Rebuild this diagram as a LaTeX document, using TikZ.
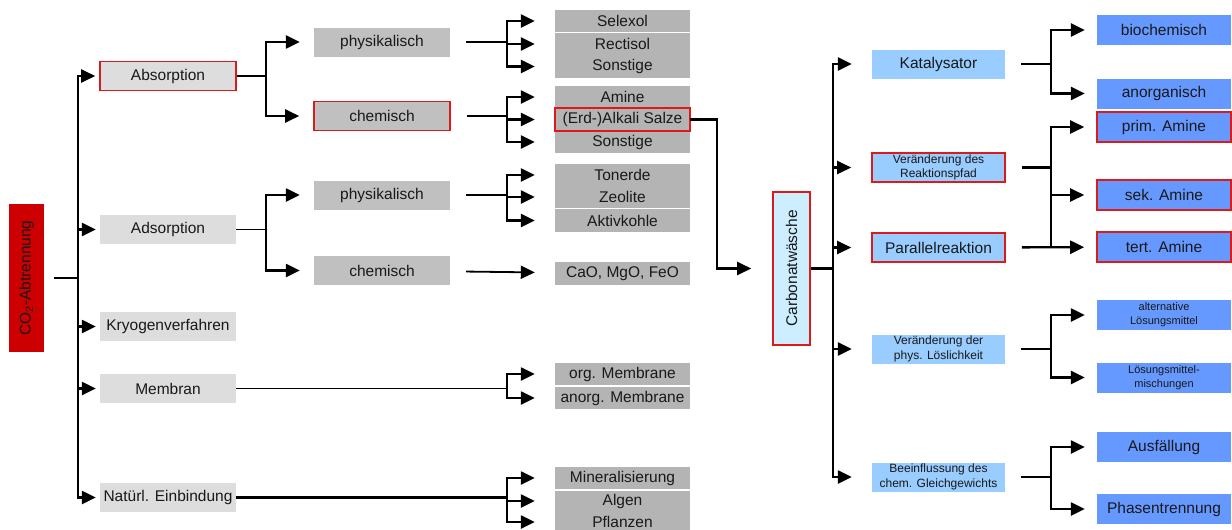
\documentclass[tikz,border=0pt]{standalone}
\usepackage{fontspec}
\setmainfont{Liberation Sans}
\usetikzlibrary{arrows.meta}
\definecolor{rootred}{HTML}{CC0000}
\definecolor{frame}{HTML}{DD1A1A}
\definecolor{greyone}{HTML}{DDDDDD}
\definecolor{greytwo}{HTML}{C0C0C0}
\definecolor{greythree}{HTML}{B4B4B4}
\definecolor{blueone}{HTML}{99CCFF}
\definecolor{bluetwo}{HTML}{6699FF}
\definecolor{bluepale}{HTML}{CCEEFF}
\begin{document}
\begin{tikzpicture}[x=1pt, y=-1pt,
    every node/.style={inner sep=0pt, text=black!90, font=\fontsize{15.5}{18}\selectfont},
    line/.style={line width=2.4pt},
    arr/.style={line width=2.4pt, -{Triangle[length=14pt,width=13pt]}},
    lvlone/.style={fill=greyone, minimum width=136, minimum height=29},
    lvltwo/.style={fill=greytwo, minimum width=136, minimum height=29},
    lvlthree/.style={fill=greythree, minimum width=135, minimum height=22},
    rone/.style={fill=blueone, minimum width=133, minimum height=29, align=center},
    rtwo/.style={fill=bluetwo, minimum width=134, minimum height=30, align=center},
    redframe/.style={draw=frame, line width=1.6pt},
    smalltext/.style={font=\fontsize{12}{14.5}\selectfont},
    tinytext/.style={font=\fontsize{11}{14}\selectfont}]
\useasboundingbox (0,0) rectangle (1232,530);

\node[fill=rootred, rotate=90, minimum width=148, minimum height=35] (root) at (26.5,278) {CO\textsubscript{2}-Abtrennung};

\node[lvlone, redframe] (absorp) at (168,76) {Absorption};
\node[lvlone] (adsorp) at (168,229.5) {Adsorption};
\node[lvlone] (kryo) at (168,326.5) {Kryogenverfahren};
\node[lvlone] (membran) at (168,388.5) {Membran};
\node[lvlone] (natur) at (168,497.5) {Natürl. Einbindung};

\node[lvltwo] (physA) at (382,42) {physikalisch};
\node[lvltwo, redframe] (chemA) at (382,116) {chemisch};
\node[lvltwo] (physB) at (382,195) {physikalisch};
\node[lvltwo] (chemB) at (382,270.5) {chemisch};

\node[lvlthree] (selexol) at (622.5,21) {Selexol};
\node[lvlthree] (rectisol) at (622.5,44) {Rectisol};
\node[lvlthree, minimum height=23] (sonstA) at (622.5,66.5) {Sonstige};
\node[lvlthree] (amine) at (622.5,97) {Amine};
\node[lvlthree, minimum height=23] (erd) at (622.5,119.5) {(Erd-)Alkali Salze};
\node[lvlthree] (sonstB) at (622.5,142) {Sonstige};
\draw[frame, line width=1.6pt] (erd.south west) rectangle (erd.north east);
\node[lvlthree] (tonerde) at (622.5,175) {Tonerde};
\node[lvlthree] (zeolite) at (622.5,197) {Zeolite};
\node[lvlthree, minimum height=23] (aktiv) at (622.5,220.5) {Aktivkohle};
\node[lvlthree, minimum height=23] (cao) at (622.5,273.5) {CaO, MgO, FeO};
\node[lvlthree] (orgm) at (622.5,374) {org. Membrane};
\node[lvlthree] (anorgm) at (622.5,398) {anorg. Membrane};
\node[lvlthree] (mineral) at (622.5,478) {Mineralisierung};
\node[lvlthree, minimum height=20] (algen) at (622.5,501) {Algen};
\node[lvlthree] (pflanzen) at (622.5,522) {Pflanzen};

\node[fill=bluepale, draw=frame, line width=1.6pt, rotate=90, minimum width=153, minimum height=37] (carbon) at (791.5,268.5) {Carbonatwäsche};

\node[rone] (katal) at (938.5,64) {Katalysator};
\node[rone, redframe, smalltext] (reakt) at (938.5,167.5) {Veränderung des\\Reaktionspfad};
\node[rone, redframe] (parallel) at (938.5,247.5) {Parallelreaktion};
\node[rone, smalltext] (physL) at (938.5,349) {Veränderung der\\phys. Löslichkeit};
\node[rone, smalltext] (gleich) at (938.5,477) {Beeinflussung des\\chem. Gleichgewichts};

\node[rtwo] (bioch) at (1164,30) {biochemisch};
\node[rtwo] (anorg) at (1164,93.5) {anorganisch};
\node[rtwo, redframe] (prim) at (1164,127) {prim. Amine};
\node[rtwo, redframe] (sek) at (1164,195) {sek. Amine};
\node[rtwo, redframe] (tert) at (1164,247) {tert. Amine};
\node[rtwo, tinytext] (altL) at (1164,315) {alternative\\Lösungsmittel};
\node[rtwo, tinytext] (misch) at (1164,377.5) {Lösungsmittel-\\mischungen};
\node[rtwo] (ausf) at (1164,447) {Ausfällung};
\node[rtwo] (phasen) at (1164,509) {Phasentrennung};

\coordinate (tA) at (78,278);
\coordinate (bAbs) at (266,76);
\coordinate (bAds) at (266,229.5);
\coordinate (bPA) at (507,42);
\coordinate (bCA) at (507,116);
\coordinate (bPB) at (507,195);
\coordinate (bMem) at (507,388.5);
\coordinate (bNat) at (507,497.5);
\coordinate (jErd) at (717,0);
\coordinate (tC) at (833,268.5);
\coordinate (bKat) at (1051,64);
\coordinate (bReak) at (1051,167.5);
\coordinate (bPhys) at (1051,349);
\coordinate (bGl) at (1051,477);

\draw[line, shorten <=10pt] (root) -- (tA);
\foreach \n in {absorp, adsorp, kryo, membran, natur}
  \draw[arr, shorten >=4pt] (tA) |- (\n);

\draw[line] (absorp) -- (bAbs);
\draw[arr, shorten >=14pt] (bAbs) |- (physA);
\draw[arr, shorten >=14pt] (bAbs) |- (chemA);
\draw[line, line width=1.8pt] (adsorp) -- (bAds);
\draw[arr, shorten >=14pt] (bAds) |- (physB);
\draw[arr, shorten >=14pt] (bAds) |- (chemB);

\draw[line, shorten <=16pt] (physA) -- (bPA);
\foreach \n in {selexol, rectisol, sonstA}
  \draw[arr, shorten >=20pt] (bPA) |- (\n);
\draw[line, shorten <=16pt] (chemA) -- (bCA);
\foreach \n in {amine, erd, sonstB}
  \draw[arr, shorten >=20pt] (bCA) |- (\n);
\draw[line, shorten <=16pt] (physB) -- (bPB);
\foreach \n in {tonerde, zeolite, aktiv}
  \draw[arr, shorten >=20pt] (bPB) |- (\n);
\draw[arr, line width=1.8pt, shorten <=16pt, shorten >=20pt] (chemB) -- (cao);

\draw[line, line width=1.8pt] (membran) -- (bMem);
\foreach \n in {orgm, anorgm}
  \draw[arr, shorten >=20pt] (bMem) |- (\n);
\draw[line] (natur) -- (bNat);
\foreach \n in {mineral, algen, pflanzen}
  \draw[arr, shorten >=20pt] (bNat) |- (\n);

\draw[arr, shorten >=21pt] (erd) -| (jErd |- carbon) -- (carbon);

\draw[line] (carbon) -- (tC);
\foreach \n in {katal, reakt, parallel, physL, gleich}
  \draw[arr, shorten >=20pt] (tC) |- (\n);

\draw[line, shorten <=16pt] (katal) -- (bKat);
\draw[arr, shorten >=12pt] (bKat) |- (bioch);
\draw[arr, shorten >=12pt] (bKat) |- (anorg);
\draw[line, shorten <=16pt] (reakt) -- (bReak);
\draw[arr, shorten >=12pt] (bReak) |- (prim);
\draw[arr, shorten >=12pt] (bReak) |- (sek);
\draw[line] (bReak) -- (bReak |- tert);
\draw[arr, shorten <=16pt, shorten >=12pt] (parallel) -- (tert);
\draw[line, shorten <=16pt] (physL) -- (bPhys);
\draw[arr, shorten >=12pt] (bPhys) |- (altL);
\draw[arr, shorten >=12pt] (bPhys) |- (misch);
\draw[line, shorten <=16pt] (gleich) -- (bGl);
\draw[arr, shorten >=12pt] (bGl) |- (ausf);
\draw[arr, shorten >=12pt] (bGl) |- (phasen);
\end{tikzpicture}
\end{document}
